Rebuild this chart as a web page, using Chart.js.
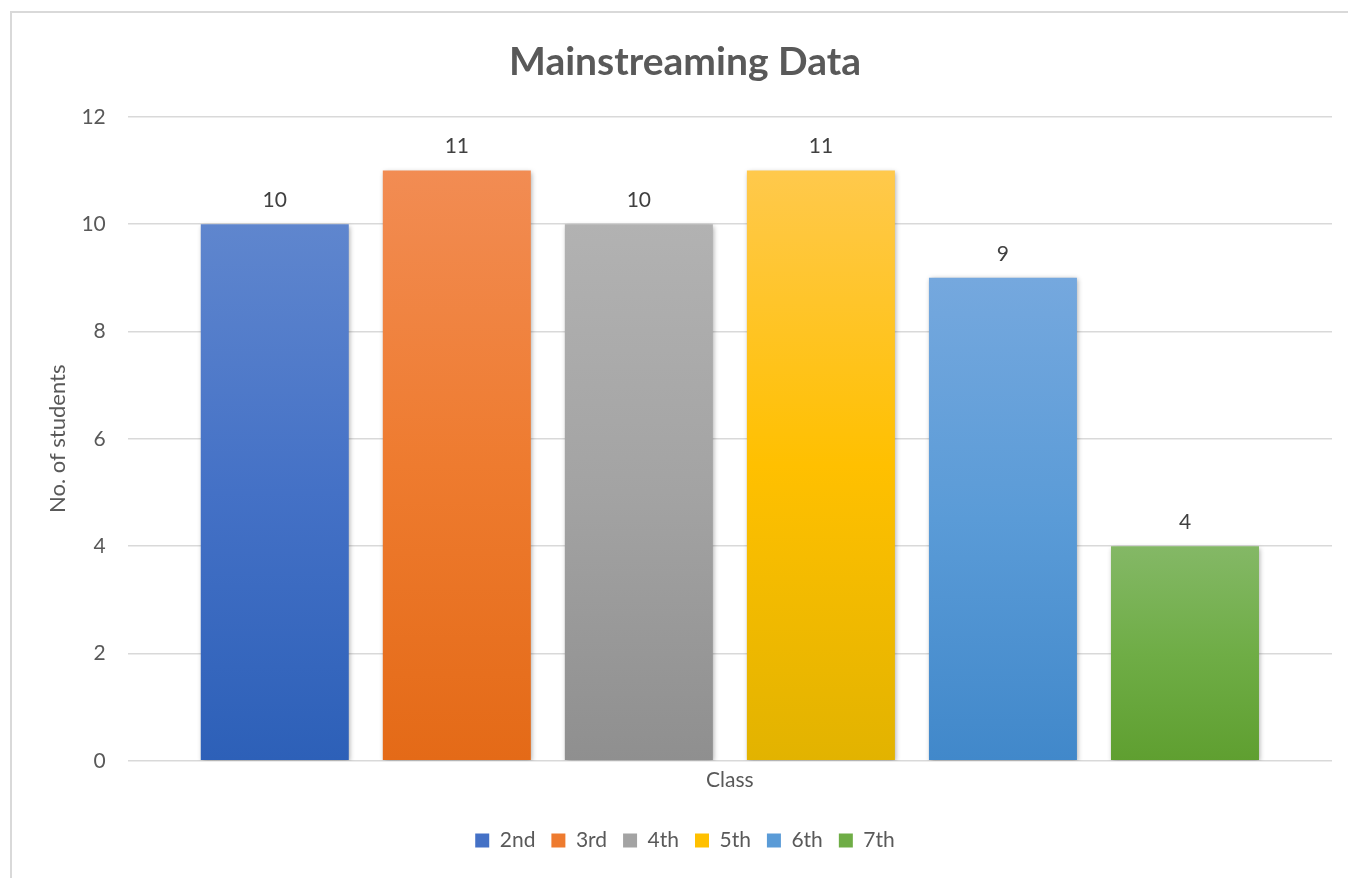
<!DOCTYPE html>
<html>
<head>
<meta charset="utf-8">
<script src="https://cdn.jsdelivr.net/npm/chart.js@4/dist/chart.umd.min.js"></script>
<style>
  html, body { margin: 0; padding: 0; background: #fff; }
  #wrap { width: 1348px; height: 878px; position: relative; }
</style>
</head>
<body>
<div id="wrap"><canvas id="mainChart"></canvas></div>
<script>
const categories = [''];
const seriesNames = ['2nd', '3rd', '4th', '5th', '6th', '7th'];
const seriesValues = [10, 11, 10, 11, 9, 4];
const yMin = 0;
const yMax = 12;
const yStep = 2;

// top / middle / bottom of each bar's gradient
const seriesShades = [
  ['#5f86ce', '#4471c6', '#2d60b8'],
  ['#f28c53', '#ee7b2f', '#e46a17'],
  ['#b2b2b2', '#a3a3a3', '#8f8f8f'],
  ['#ffc94c', '#ffc000', '#e2b300'],
  ['#75a8de', '#5a9bd7', '#4188ca'],
  ['#84b866', '#6fad46', '#5f9f30']
];

const FONT = 'Lato, "Open Sans", sans-serif';

function barGradient(ctx, i) {
  const chart = ctx.chart;
  const { chartArea, scales } = chart;
  const shades = seriesShades[i];
  if (!chartArea || !scales.y) return shades[1];
  const top = scales.y.getPixelForValue(seriesValues[i]);
  const bottom = scales.y.getPixelForValue(0);
  const g = chart.ctx.createLinearGradient(0, top, 0, bottom);
  g.addColorStop(0, shades[0]);
  g.addColorStop(0.5, shades[1]);
  g.addColorStop(1, shades[2]);
  return g;
}

const frameAndLabels = {
  id: 'frameAndLabels',
  beforeDraw(chart) {
    const c = chart.ctx;
    c.save();
    c.strokeStyle = '#d9d9d9';
    c.lineWidth = 2;
    c.beginPath();
    c.moveTo(11, 878);
    c.lineTo(11, 12);
    c.lineTo(1348, 12);
    c.stroke();
    c.restore();
  },
  beforeDatasetsDraw(chart) {
    const c = chart.ctx;
    c.save();
    c.shadowColor = 'rgba(0,0,0,0.35)';
    c.shadowBlur = 5;
    c.shadowOffsetX = 1.5;
    c.shadowOffsetY = 1.5;
  },
  afterDatasetsDraw(chart) {
    const c = chart.ctx;
    c.restore();
    c.save();
    c.font = '21px ' + FONT;
    c.fillStyle = '#404040';
    c.textAlign = 'center';
    c.textBaseline = 'middle';
    chart.data.datasets.forEach((ds, i) => {
      const meta = chart.getDatasetMeta(i);
      meta.data.forEach((el, j) => {
        c.fillText(String(ds.data[j]), el.x, el.y - 24);
      });
    });
    c.restore();
  }
};

const ctx = document.getElementById('mainChart').getContext('2d');
window.mainChart = new Chart(ctx, {
  type: 'bar',
  data: {
    labels: categories,
    datasets: seriesNames.map((name, i) => ({
      label: name,
      data: [seriesValues[i]],
      backgroundColor: (c) => barGradient(c, i),
      borderWidth: 0,
      categoryPercentage: 0.907,
      barPercentage: 0.813
    }))
  },
  options: {
    responsive: true,
    maintainAspectRatio: false,
    animation: false,
    layout: {
      padding: { top: 9, left: 38, right: 16, bottom: 17 }
    },
    plugins: {
      title: {
        display: true,
        text: 'Mainstreaming Data',
        color: '#595959',
        font: { family: FONT, size: 39, weight: 'bold' },
        padding: { top: 30, bottom: 31 }
      },
      legend: {
        position: 'bottom',
        labels: {
          color: '#595959',
          font: { family: FONT, size: 21 },
          boxWidth: 14,
          boxHeight: 14,
          padding: 16,
          generateLabels(chart) {
            return chart.data.datasets.map((ds, i) => ({
              text: ds.label,
              fillStyle: seriesShades[i][1],
              strokeStyle: seriesShades[i][1],
              lineWidth: 0,
              datasetIndex: i,
              fontColor: '#595959'
            }));
          }
        }
      },
      tooltip: { enabled: false }
    },
    scales: {
      x: {
        grid: { display: false, drawTicks: false },
        border: { display: false },
        ticks: { display: false },
        title: {
          display: true,
          text: 'Class',
          color: '#595959',
          font: { family: FONT, size: 21 },
          padding: { top: 7, bottom: 21 }
        }
      },
      y: {
        min: yMin,
        max: yMax,
        ticks: {
          stepSize: yStep,
          color: '#595959',
          font: { family: FONT, size: 21 },
          padding: 22
        },
        grid: { color: '#d9d9d9', lineWidth: 1.5, drawTicks: false },
        border: { display: false },
        title: {
          display: true,
          text: 'No. of students',
          color: '#595959',
          font: { family: FONT, size: 22 },
          padding: { top: 7, bottom: -12 }
        }
      }
    }
  },
  plugins: [frameAndLabels]
});
</script>
</body>
</html>
